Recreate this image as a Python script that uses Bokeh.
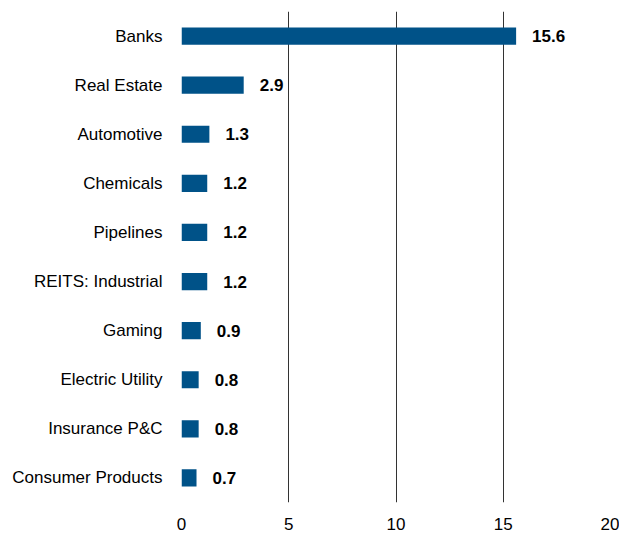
from bokeh.plotting import figure
from bokeh.models import FactorRange, Range1d, ColumnDataSource, FixedTicker
from bokeh.core.properties import value
from bokeh.embed import file_html
from bokeh.resources import INLINE

categories = ["Banks", "Real Estate", "Automotive", "Chemicals", "Pipelines",
              "REITS: Industrial", "Gaming", "Electric Utility", "Insurance P&C",
              "Consumer Products"]
values = [15.6, 2.9, 1.3, 1.2, 1.2, 1.2, 0.9, 0.8, 0.8, 0.7]
labels = ["15.6", "2.9", "1.3", "1.2", "1.2", "1.2", "0.9", "0.8", "0.8", "0.7"]
x_ticks = [0, 5, 10, 15, 20]

FONT = "Liberation Sans"

src = ColumnDataSource(dict(cat=categories, val=values, lab=labels))

p = figure(y_range=FactorRange(factors=categories[::-1]), x_range=Range1d(0, 20),
           width=619, height=535, output_backend="svg", toolbar_location=None,
           min_border_left=181, min_border_right=9, min_border_top=11, min_border_bottom=33)

p.hbar(y="cat", right="val", left=0, height=0.35, source=src,
       fill_color="#005288", line_color=None)
p.text(x="val", y="cat", text="lab", source=src, x_offset=16,
       text_font=value(FONT), text_font_size="17px", text_font_style="bold",
       text_baseline="middle", text_align="left", text_color="#000000")

p.outline_line_color = None
p.ygrid.grid_line_color = None
p.xgrid.ticker = FixedTicker(ticks=x_ticks)
p.xgrid.grid_line_color = "#333333"
p.xgrid.grid_line_width = 1
p.xgrid.grid_line_alpha = 1

p.xaxis.ticker = FixedTicker(ticks=x_ticks)
p.xaxis.axis_line_color = None
p.xaxis.major_tick_line_color = None
p.xaxis.minor_tick_line_color = None
p.xaxis.major_label_standoff = 9
p.xaxis.major_label_text_font = FONT
p.xaxis.major_label_text_font_size = "17px"
p.xaxis.major_label_text_color = "#000000"

p.yaxis.axis_line_color = None
p.yaxis.major_tick_line_color = None
p.yaxis.major_label_standoff = 13
p.yaxis.major_label_text_font = FONT
p.yaxis.major_label_text_font_size = "17px"
p.yaxis.major_label_text_color = "#000000"

open("out.html", "w").write(file_html(p, INLINE))
